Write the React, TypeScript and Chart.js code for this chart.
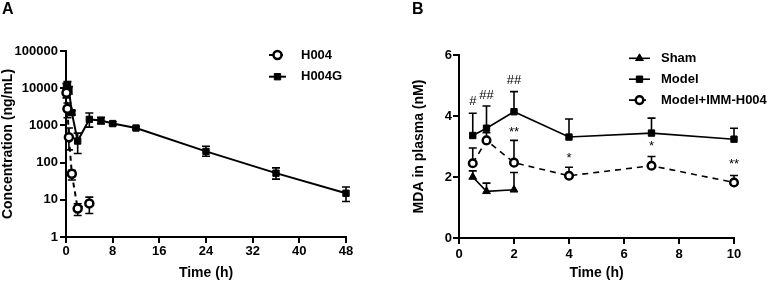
import React, { useEffect, useRef } from "react";
import { Chart, registerables } from "chart.js";

Chart.register(...registerables);

const FONT = "'Liberation Sans', Arial, Helvetica, sans-serif";

// ---------- Panel A data ----------
const aTimeH004 = [0.083, 0.25, 0.5, 1, 2, 4];
const aH004 = [7500, 2800, 480, 50, 5.8, 8];
const aH004Lo = [5500, 1600, 220, 34, 3.8, 4.3];
const aH004Hi = [9500, 4000, 850, 62, 7.8, 11.8];

const aTimeH004G = [0.083, 0.25, 0.5, 1, 2, 4, 6, 8, 12, 24, 36, 48];
const aH004G = [11000, 12500, 9000, 2200, 380, 1450, 1350, 1120, 850, 200, 52, 15];
const aH004GLo = [9000, 10000, 7000, 1900, 175, 900, 1100, 1000, 780, 148, 36, 9];
const aH004GHi = [13500, 15000, 11000, 2500, 620, 2150, 1650, 1250, 920, 275, 72, 22];

const aXTicks = [0, 8, 16, 24, 32, 40, 48];
const aYTicks = [1, 10, 100, 1000, 10000, 100000];

// ---------- Panel B data ----------
const bTimeSham = [0.5, 1, 2];
const bSham = [2.0, 1.53, 1.58];
const bShamHi = [2.2, 1.8, 2.15];

const bTime = [0.5, 1, 2, 4, 7, 10];
const bModel = [3.36, 3.6, 4.14, 3.31, 3.44, 3.24];
const bModelHi = [4.09, 4.33, 4.8, 3.9, 3.93, 3.6];
const bImm = [2.45, 3.2, 2.47, 2.04, 2.37, 1.82];
const bImmHi = [2.95, 3.45, 3.2, 2.32, 2.67, 2.05];

const bXTicks = [0, 2, 4, 6, 8, 10];
const bYTicks = [0, 2, 4, 6];

const bMarks = ["#", "##", "##", "**", "*", "*", "**"];
const bMarkX = [0.5, 1, 2, 2, 4, 7, 10];
const bMarkY = [4.47, 4.69, 5.18, 3.46, 2.62, 3.0, 2.4];

// ---------- helpers ----------
function drawMarker(ctx: any, style: string, x: number, y: number, r: number, bw: number, fill: string) {
  ctx.save();
  ctx.beginPath();
  if (style === "circle") {
    ctx.arc(x, y, r, 0, Math.PI * 2);
  } else if (style === "rect") {
    const s = r * Math.SQRT1_2;
    ctx.rect(x - s, y - s, 2 * s, 2 * s);
  } else if (style === "triangle") {
    let rad = 0;
    const t = (2 * Math.PI) / 3;
    ctx.moveTo(x + Math.sin(rad) * r, y - Math.cos(rad) * r);
    rad += t;
    ctx.lineTo(x + Math.sin(rad) * r, y - Math.cos(rad) * r);
    rad += t;
    ctx.lineTo(x + Math.sin(rad) * r, y - Math.cos(rad) * r);
    ctx.closePath();
  }
  ctx.fillStyle = fill;
  ctx.fill();
  ctx.lineWidth = bw;
  ctx.strokeStyle = "#000";
  ctx.setLineDash([]);
  ctx.stroke();
  ctx.restore();
}

const errorBars = {
  id: "errorBars",
  beforeDatasetsDraw(chart: any) {
    const ctx = chart.ctx;
    const xs = chart.scales.x;
    const ys = chart.scales.y;
    chart.data.datasets.forEach((ds: any) => {
      if (!ds.errHi) return;
      const cap = 4;
      ctx.save();
      ctx.strokeStyle = "#000";
      ctx.lineWidth = 1.6;
      ctx.setLineDash([]);
      ds.data.forEach((p: any, j: number) => {
        const x = xs.getPixelForValue(p.x);
        const top = ys.getPixelForValue(ds.errHi[j]);
        const bot = ys.getPixelForValue(ds.errLo ? ds.errLo[j] : p.y);
        ctx.beginPath();
        ctx.moveTo(x, top);
        ctx.lineTo(x, bot);
        ctx.moveTo(x - cap, top);
        ctx.lineTo(x + cap, top);
        if (ds.errLo) {
          ctx.moveTo(x - cap, bot);
          ctx.lineTo(x + cap, bot);
        }
        ctx.stroke();
      });
      ctx.restore();
    });
  },
};

function legendPlugin(lx0: number, lx1: number, tx: number, y0: number, dy: number) {
  return {
    id: "customLegend",
    afterDraw(chart: any) {
      const ctx = chart.ctx;
      chart.data.datasets.forEach((ds: any, i: number) => {
        const y = y0 + i * dy;
        ctx.save();
        ctx.strokeStyle = "#000";
        ctx.lineWidth = ds.borderWidth;
        ctx.setLineDash(ds.borderDash || []);
        ctx.beginPath();
        ctx.moveTo(lx0, y);
        ctx.lineTo(lx1, y);
        ctx.stroke();
        ctx.restore();
        drawMarker(ctx, ds.pointStyle, (lx0 + lx1) / 2, y, ds.pointRadius, ds.pointBorderWidth, ds.pointBackgroundColor);
        ctx.save();
        ctx.fillStyle = "#000";
        ctx.font = `bold 13px ${FONT}`;
        ctx.textBaseline = "middle";
        ctx.textAlign = "left";
        ctx.fillText(ds.label, tx, y);
        ctx.restore();
      });
    },
  };
}

const marksPlugin = {
  id: "marks",
  afterDatasetsDraw(chart: any) {
    const ctx = chart.ctx;
    const xs = chart.scales.x;
    const ys = chart.scales.y;
    ctx.save();
    ctx.fillStyle = "#000";
    ctx.font = `13px ${FONT}`;
    ctx.textAlign = "center";
    ctx.textBaseline = "middle";
    bMarks.forEach((m, i) => {
      ctx.fillText(m, xs.getPixelForValue(bMarkX[i]), ys.getPixelForValue(bMarkY[i]));
    });
    ctx.restore();
  },
};

function axis(tickPad: number, extra: any) {
  return {
    grid: { display: true, drawOnChartArea: false, drawTicks: true, tickLength: 6, color: "#000", lineWidth: 2 },
    border: { display: true, color: "#000", width: 2 },
    ticks: {
      color: "#000",
      font: { family: FONT, size: 13, weight: "bold" },
      padding: tickPad,
      maxRotation: 0,
      autoSkip: false,
      callback: (v: any) => String(v),
    },
    ...extra,
  };
}

function titleOpt(text: string, pad: any) {
  return { display: true, text, color: "#000", font: { family: FONT, size: 14, weight: "bold" }, padding: pad };
}

function configA(): any {
  return {
    type: "line",
    data: {
      datasets: [
        {
          label: "H004",
          data: aTimeH004.map((x, i) => ({ x, y: aH004[i] })),
          errLo: aH004Lo,
          errHi: aH004Hi,
          borderColor: "#000",
          borderWidth: 2,
          borderDash: [5, 4],
          pointStyle: "circle",
          pointRadius: 4,
          pointBorderWidth: 2.5,
          pointBackgroundColor: "#fff",
          pointBorderColor: "#000",
          clip: false,
          order: 0,
        },
        {
          label: "H004G",
          data: aTimeH004G.map((x, i) => ({ x, y: aH004G[i] })),
          errLo: aH004GLo,
          errHi: aH004GHi,
          borderColor: "#000",
          borderWidth: 2,
          borderDash: [],
          pointStyle: "rect",
          pointRadius: 4.5,
          pointBorderWidth: 1,
          pointBackgroundColor: "#000",
          pointBorderColor: "#000",
          clip: false,
          order: 1,
        },
      ],
    },
    options: {
      animation: false,
      responsive: false,
      events: [],
      layout: { padding: { left: 0, right: 40, top: 51, bottom: 0 } },
      plugins: { legend: { display: false }, tooltip: { enabled: false } },
      scales: {
        x: axis(1, {
          type: "linear",
          min: 0,
          max: 48,
          afterBuildTicks: (s: any) => {
            s.ticks = aXTicks.map((v) => ({ value: v }));
          },
          title: titleOpt("Time (h)", { top: 0, bottom: 0 }),
          afterFit: (s: any) => {
            s.height = 45;
          },
        }),
        y: axis(2, {
          type: "logarithmic",
          min: 1,
          max: 100000,
          afterBuildTicks: (s: any) => {
            s.ticks = aYTicks.map((v) => ({ value: v }));
          },
          title: titleOpt("Concentration (ng/mL)", { top: 0, bottom: 0 }),
          afterFit: (s: any) => {
            s.width = 66;
          },
        }),
      },
    },
    plugins: [errorBars, legendPlugin(269, 286, 301, 55, 21.7)],
  };
}

function configB(): any {
  return {
    type: "line",
    data: {
      datasets: [
        {
          label: "Sham",
          data: bTimeSham.map((x, i) => ({ x, y: bSham[i] })),
          errHi: bShamHi,
          borderColor: "#000",
          borderWidth: 1.6,
          borderDash: [],
          pointStyle: "triangle",
          pointRadius: 4.5,
          pointBorderWidth: 1,
          pointBackgroundColor: "#000",
          pointBorderColor: "#000",
          clip: false,
          order: 2,
        },
        {
          label: "Model",
          data: bTime.map((x, i) => ({ x, y: bModel[i] })),
          errHi: bModelHi,
          borderColor: "#000",
          borderWidth: 1.6,
          borderDash: [],
          pointStyle: "rect",
          pointRadius: 4.5,
          pointBorderWidth: 1,
          pointBackgroundColor: "#000",
          pointBorderColor: "#000",
          clip: false,
          order: 1,
        },
        {
          label: "Model+IMM-H004",
          data: bTime.map((x, i) => ({ x, y: bImm[i] })),
          errHi: bImmHi,
          borderColor: "#000",
          borderWidth: 1.6,
          borderDash: [6, 5],
          pointStyle: "circle",
          pointRadius: 3.8,
          pointBorderWidth: 2.5,
          pointBackgroundColor: "#fff",
          pointBorderColor: "#000",
          clip: false,
          order: 0,
        },
      ],
    },
    options: {
      animation: false,
      responsive: false,
      events: [],
      layout: { padding: { left: 25, right: 38, top: 55, bottom: 0 } },
      plugins: { legend: { display: false }, tooltip: { enabled: false } },
      scales: {
        x: axis(3, {
          type: "linear",
          min: 0,
          max: 10,
          afterBuildTicks: (s: any) => {
            s.ticks = bXTicks.map((v) => ({ value: v }));
          },
          title: titleOpt("Time (h)", { top: 0, bottom: 0 }),
          afterFit: (s: any) => {
            s.height = 44;
          },
        }),
        y: axis(1, {
          type: "linear",
          min: 0,
          max: 6,
          afterBuildTicks: (s: any) => {
            s.ticks = bYTicks.map((v) => ({ value: v }));
          },
          title: titleOpt("MDA in plasma (nM)", { top: 0, bottom: 0 }),
          afterFit: (s: any) => {
            s.width = 48;
          },
        }),
      },
    },
    plugins: [errorBars, marksPlugin, legendPlugin(243, 264, 275, 58.3, 20.9)],
  };
}

function ChartCanvas({ make, left }: { make: () => any; left: number }) {
  const ref = useRef<HTMLCanvasElement | null>(null);
  useEffect(() => {
    const c = new Chart(ref.current as HTMLCanvasElement, make());
    return () => c.destroy();
  }, []);
  return (
    <canvas
      ref={ref}
      width={386}
      height={282}
      style={{ position: "absolute", left, top: 0, width: 386, height: 282, display: "block" }}
    />
  );
}

const panelLabel: any = {
  position: "absolute",
  top: 1,
  fontFamily: FONT,
  fontWeight: "bold",
  fontSize: 16,
  lineHeight: "16px",
  color: "#000",
};

export default function App() {
  return (
    <div style={{ position: "absolute", left: 0, top: 0, width: 772, height: 282, background: "#fff" }}>
      <ChartCanvas make={configA} left={0} />
      <ChartCanvas make={configB} left={386} />
      <div style={{ ...panelLabel, left: 2 }}>A</div>
      <div style={{ ...panelLabel, left: 412 }}>B</div>
    </div>
  );
}
